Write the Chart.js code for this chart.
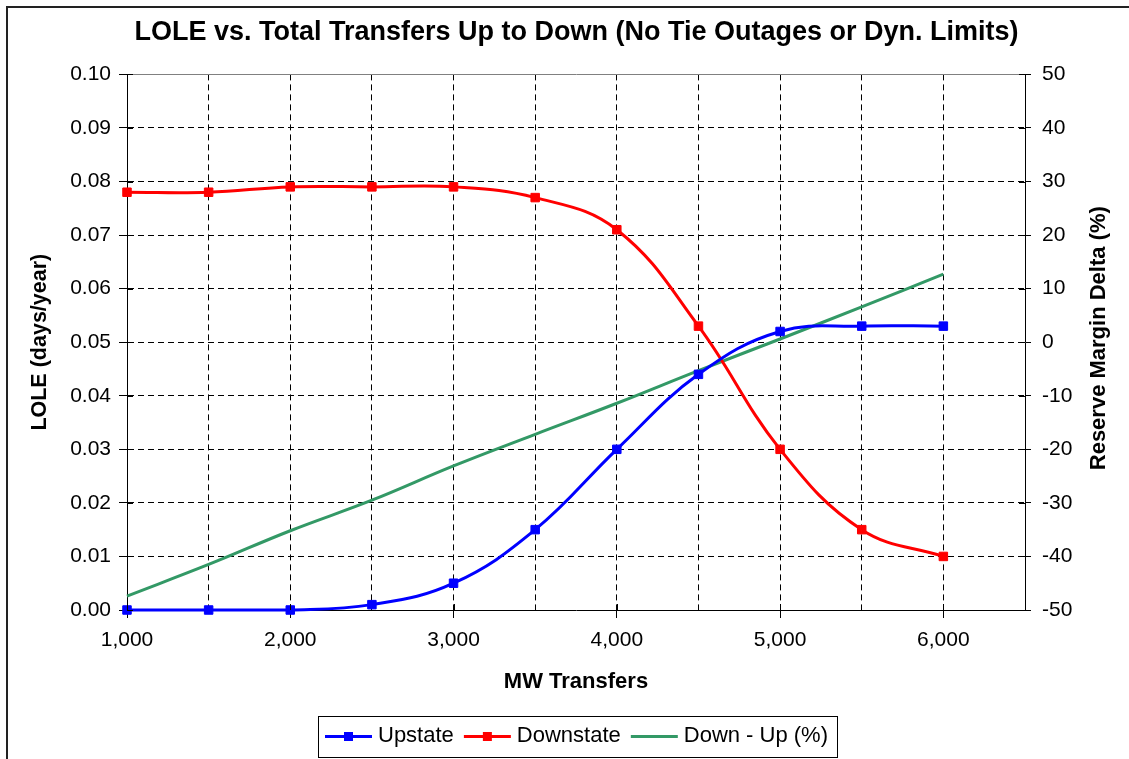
<!DOCTYPE html>
<html>
<head>
<meta charset="utf-8">
<script src="https://cdn.jsdelivr.net/npm/chart.js@4.4.0/dist/chart.umd.min.js"></script>
<style>
html, body { margin: 0; padding: 0; background: #fff; }
#wrap { position: relative; width: 1129px; height: 759px; overflow: hidden; }
#frame { position: absolute; left: 6px; top: 6px; width: 1200px; height: 800px; border-top: 2px solid #222; border-left: 2px solid #222; }
#lole { position: absolute; left: 0; top: 0; }
</style>
</head>
<body>
<div id="wrap">
  <div id="frame"></div>
  <canvas id="lole" width="1129" height="759"></canvas>
</div>
<script>
// --- DATA ---
const transfers = [1000, 1500, 2000, 2500, 3000, 3500, 4000, 4500, 5000, 5500, 6000];
const upstate = [0, 0, 0, 0.001, 0.005, 0.015, 0.030, 0.044, 0.052, 0.053, 0.053];
const downstate = [0.078, 0.078, 0.079, 0.079, 0.079, 0.077, 0.071, 0.053, 0.030, 0.015, 0.010];
const downMinusUp = [-47.4, -41.5, -35.2, -29.5, -23.1, -17.2, -11.4, -5.3, 0.6, 6.6, 12.7];

const FONT = "'Liberation Sans', Arial, sans-serif";

function toPoints(values) {
    return transfers.map((x, i) => ({ x: x, y: values[i] }));
}

// legend swatch: 47px line with a square marker; canvas is wider than the legend box so the text sits close
function swatch(color, marker) {
    const c = document.createElement('canvas');
    c.width = 60; c.height = 12;
    const g = c.getContext('2d');
    g.fillStyle = color;
    g.fillRect(9, 5, 47, 3);
    if (marker) g.fillRect(28, 2, 9, 9);
    return c;
}

// draws the right axis title (bottom-to-top), inner tick halves and the legend frame
const extras = {
    id: 'extras',
    afterDraw(chart) {
        const ctx = chart.ctx;
        const area = chart.chartArea;
        const { x, y, y1 } = chart.scales;
        ctx.save();
        ctx.strokeStyle = '#000';
        ctx.lineWidth = 1;
        ctx.beginPath();
        y.ticks.forEach(t => {
            const py = Math.round(y.getPixelForValue(t.value)) + 0.5;
            ctx.moveTo(area.left, py); ctx.lineTo(area.left + 6, py);
        });
        y1.ticks.forEach(t => {
            const py = Math.round(y1.getPixelForValue(t.value)) + 0.5;
            ctx.moveTo(area.right - 6, py); ctx.lineTo(area.right, py);
        });
        x.ticks.forEach(t => {
            if (t.value % 1000 !== 0) return;
            const px = Math.round(x.getPixelForValue(t.value)) + 0.5;
            ctx.moveTo(px, area.bottom); ctx.lineTo(px, area.bottom - 6);
        });
        ctx.stroke();

        ctx.fillStyle = '#000';
        ctx.font = 'bold 22px ' + FONT;
        ctx.textAlign = 'center';
        ctx.textBaseline = 'middle';
        ctx.translate(1099, (area.top + area.bottom) / 2 - 4);
        ctx.rotate(-Math.PI / 2);
        ctx.fillText('Reserve Margin Delta (%)', 0, 0);
        ctx.restore();

        const lg = chart.legend;
        if (lg && lg.legendHitBoxes && lg.legendHitBoxes.length) {
            const boxes = lg.legendHitBoxes;
            const left = Math.min(...boxes.map(b => b.left)) - 7;
            const right = Math.max(...boxes.map(b => b.left + b.width)) + 9;
            const top = boxes[0].top - 9;
            const bottom = boxes[0].top + boxes[0].height + 10;
            ctx.save();
            ctx.strokeStyle = '#000';
            ctx.lineWidth = 1;
            ctx.strokeRect(Math.round(left) + 0.5, Math.round(top) + 0.5, Math.round(right - left), Math.round(bottom - top));
            ctx.restore();
        }
    }
};

const swatches = [swatch('#0000FF', true), swatch('#FF0000', true), swatch('#339966', false)];

new Chart(document.getElementById('lole'), {
    type: 'line',
    data: {
        datasets: [
            {
                label: 'Upstate',
                data: toPoints(upstate),
                yAxisID: 'y',
                borderColor: '#0000FF',
                backgroundColor: '#0000FF',
                borderWidth: 3,
                pointStyle: 'rect',
                pointRadius: 6,
                pointBorderWidth: 1,
                tension: 0.4,
                clip: false
            },
            {
                label: 'Downstate',
                data: toPoints(downstate),
                yAxisID: 'y',
                borderColor: '#FF0000',
                backgroundColor: '#FF0000',
                borderWidth: 3,
                pointStyle: 'rect',
                pointRadius: 6,
                pointBorderWidth: 1,
                tension: 0.4,
                clip: false
            },
            {
                label: 'Down - Up (%)',
                data: toPoints(downMinusUp),
                yAxisID: 'y1',
                borderColor: '#339966',
                backgroundColor: '#339966',
                borderWidth: 3,
                pointRadius: 0,
                tension: 0.4,
                clip: false
            }
        ]
    },
    options: {
        responsive: false,
        animation: false,
        devicePixelRatio: 1,
        layout: { padding: { left: 24, right: 0, top: 8, bottom: 2 } },
        plugins: {
            title: {
                display: true,
                text: 'LOLE vs. Total Transfers Up to Down (No Tie Outages or Dyn. Limits)',
                color: '#000',
                font: { family: FONT, size: 27, weight: 'bold' },
                padding: { top: 8, bottom: 26 }
            },
            legend: {
                position: 'bottom',
                labels: {
                    color: '#000',
                    font: { family: FONT, size: 22 },
                    usePointStyle: true,
                    pointStyleWidth: 42,
                    padding: 10,
                    generateLabels(chart) {
                        const items = Chart.defaults.plugins.legend.labels.generateLabels(chart);
                        items.forEach((it, i) => { it.pointStyle = swatches[i]; });
                        return items;
                    }
                }
            },
            tooltip: { enabled: false }
        },
        scales: {
            x: {
                type: 'linear',
                min: 1000,
                max: 6500,
                afterFit(scale) { scale.height = 105; },
                ticks: {
                    stepSize: 500,
                    autoSkip: false,
                    maxRotation: 0,
                    padding: 10,
                    color: '#000',
                    font: { family: FONT, size: 21 },
                    callback: v => (v % 1000 === 0 ? v.toLocaleString('en-US') : '')
                },
                grid: {
                    color: '#000',
                    lineWidth: 1,
                    tickLength: 8,
                    tickColor: c => (c.tick && c.tick.value % 1000 === 0 ? '#000' : 'rgba(0,0,0,0)')
                },
                border: { color: '#000', width: 1, dash: [6, 4] },
                title: {
                    display: true,
                    text: 'MW Transfers',
                    color: '#000',
                    font: { family: FONT, size: 22, weight: 'bold' },
                    padding: { top: 0, bottom: 20 }
                }
            },
            y: {
                position: 'left',
                min: 0,
                max: 0.1,
                afterFit(scale) { scale.width = 103; },
                ticks: {
                    stepSize: 0.01,
                    padding: 8,
                    color: '#000',
                    font: { family: FONT, size: 21 },
                    callback: v => v.toFixed(2)
                },
                grid: {
                    color: c => (c.tick && Math.abs(c.tick.value - 0.1) < 1e-9 ? '#808080' : '#000'),
                    lineWidth: 1,
                    tickLength: 8,
                    tickColor: '#000'
                },
                border: {
                    color: '#000',
                    width: 1,
                    dash: c => (c.tick && Math.abs(c.tick.value - 0.1) < 1e-9 ? [] : [6, 4])
                },
                title: {
                    display: true,
                    text: 'LOLE (days/year)',
                    color: '#000',
                    font: { family: FONT, size: 21.5, weight: 'bold' },
                    padding: { top: 3, bottom: 0 }
                }
            },
            y1: {
                position: 'right',
                min: -50,
                max: 50,
                afterFit(scale) { scale.width = 104; },
                ticks: {
                    stepSize: 10,
                    padding: 11,
                    color: '#000',
                    font: { family: FONT, size: 21 }
                },
                grid: {
                    drawOnChartArea: false,
                    tickLength: 6,
                    tickColor: '#000'
                },
                border: { color: '#000', width: 1 }
            }
        }
    },
    plugins: [extras]
});
</script>
</body>
</html>
